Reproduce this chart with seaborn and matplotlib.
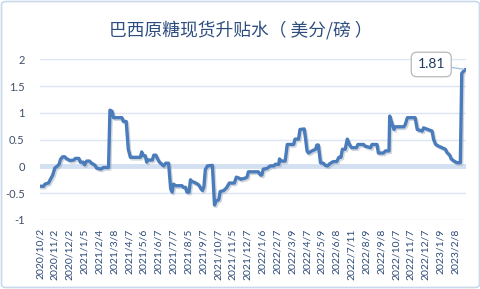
import matplotlib
matplotlib.use("Agg")
import matplotlib.pyplot as plt
import matplotlib.patheffects as pe
from matplotlib.patches import FancyBboxPatch
import seaborn as sns
import pandas as pd

# ---- data (trading-day index, spread in US cents/lb) ----
day_index = [0, 5, 7, 12, 14, 18, 21, 24, 27, 29, 32, 35, 38, 43, 48, 50, 55, 57, 61, 63,
             66, 70, 73, 78, 80, 86, 90, 97, 99, 102, 104, 116, 118, 122, 125, 128, 142, 144,
             146, 149, 151, 153, 159, 161, 164, 168, 170, 175, 178, 182, 185, 187, 189, 192,
             201, 203, 206, 208, 211, 213, 215, 219, 223, 225, 228, 230, 232, 234, 237, 244,
             247, 249, 253, 255, 260, 264, 268, 275, 278, 282, 284, 290, 293, 295, 309, 312,
             314, 316, 321, 326, 331, 333, 338, 339, 342, 347, 350, 359, 361, 366, 368, 374,
             376, 378, 380, 385, 390, 392, 394, 397, 401, 404, 407, 410, 415, 420, 423, 426,
             428, 432, 435, 438, 441, 448, 450, 458, 460, 468, 470, 477, 479, 486, 489, 494,
             495, 498, 501, 503, 515, 517, 520, 528, 531, 534, 541, 543, 549, 555, 557, 560,
             564, 569, 574, 576, 580, 582, 586, 590, 595, 597, 602]
spread = [-0.37, -0.37, -0.33, -0.31, -0.26, -0.16, -0.03, 0.0, 0.04, 0.13, 0.18, 0.18, 0.14,
          0.11, 0.12, 0.15, 0.15, 0.08, 0.08, 0.03, 0.10, 0.10, 0.06, 0.02, -0.03, -0.05,
          -0.02, -0.02, 1.05, 1.03, 0.91, 0.91, 0.84, 0.84, 0.32, 0.17, 0.17, 0.27, 0.20,
          0.20, 0.08, 0.12, 0.12, 0.21, 0.21, 0.10, 0.07, 0.01, 0.06, 0.06, -0.42, -0.48,
          -0.33, -0.36, -0.36, -0.39, -0.39, -0.48, -0.48, -0.25, -0.28, -0.30, -0.33, -0.35,
          -0.42, -0.45, -0.38, -0.06, 0.01, 0.02, -0.72, -0.65, -0.62, -0.47, -0.45, -0.40,
          -0.31, -0.31, -0.20, -0.22, -0.24, -0.22, -0.20, -0.10, -0.10, -0.16, -0.16, -0.05,
          -0.04, 0.01, 0.01, 0.04, 0.04, 0.14, 0.10, 0.10, 0.41, 0.41, 0.51, 0.51, 0.69, 0.70,
          0.51, 0.29, 0.25, 0.29, 0.32, 0.40, 0.40, 0.07, 0.06, 0.02, 0.01, 0.05, 0.09, 0.09,
          0.17, 0.17, 0.32, 0.32, 0.51, 0.41, 0.35, 0.35, 0.41, 0.41, 0.38, 0.35, 0.41, 0.41,
          0.25, 0.25, 0.29, 0.29, 0.94, 0.81, 0.69, 0.74, 0.74, 0.78, 0.91, 0.91, 0.91, 0.69,
          0.66, 0.72, 0.69, 0.66, 0.51, 0.41, 0.38, 0.35, 0.32, 0.26, 0.21, 0.14, 0.10, 0.07,
          0.07, 1.74, 1.81]
tick_labels = ["2020/10/2", "2020/11/2", "2020/12/2", "2021/1/5", "2021/2/4", "2021/3/8",
               "2021/4/7", "2021/5/6", "2021/6/7", "2021/7/7", "2021/8/5", "2021/9/7",
               "2021/10/7", "2021/11/5", "2021/12/7", "2022/1/6", "2022/2/7", "2022/3/9",
               "2022/4/7", "2022/5/9", "2022/6/8", "2022/7/11", "2022/8/9", "2022/9/8",
               "2022/10/7", "2022/11/7", "2022/12/7", "2023/1/9", "2023/2/8"]
label_step = 21
y_ticks = [-1, -0.5, 0, 0.5, 1, 1.5, 2]
y_tick_labels = ["-1", "-0.5", "0", "0.5", "1", "1.5", "2"]
title = "巴西原糖现货升贴水（ 美分/磅 ）"

df = pd.DataFrame({"day": day_index, "spread": spread})

sns.set_theme(style="white")
plt.rcParams['font.family'] = ['Lato', 'Noto Sans CJK SC', 'DejaVu Sans']

W, H = 481, 289
fig = plt.figure(figsize=(W / 100, H / 100), dpi=100)
fig.patch.set_facecolor("white")
ax = fig.add_axes([40 / W, 1 - 220 / H, 426 / W, (220 - 59.3) / H])

# gridlines
for yv in y_ticks:
    if yv == 0:
        ax.axhline(0, color="#d3e0f1", lw=3.5, zorder=1)
    else:
        ax.axhline(yv, color="#dbe5f3", lw=1.0, zorder=1)

sns.lineplot(data=df, x="day", y="spread", ax=ax, color="#4a7cbb", lw=2.4, zorder=3,
             path_effects=[pe.SimpleLineShadow(offset=(1, -1.2), shadow_color="#9aa6b5", alpha=0.45),
                           pe.Normal()])

ax.set_xlim(0, day_index[-1] + 1)
ax.set_ylim(-1, 2)
ax.set_xticks([i * label_step for i in range(len(tick_labels))])
ax.set_xticklabels(tick_labels, rotation=90, fontsize=7.5, color="#2c4a78")
ax.set_yticks(y_ticks)
ax.set_yticklabels(y_tick_labels, fontsize=8, color="#3f4f66")
ax.tick_params(axis="x", length=0, pad=6)
ax.tick_params(axis="y", length=0, pad=11)
ax.set_xlabel("")
ax.set_ylabel("")
for s in ax.spines.values():
    s.set_visible(False)
ax.set_facecolor("none")

# annotation of last value
last_x, last_y = day_index[-1], spread[-1]
ax.annotate(f"{last_y:.2f}", xy=(last_x, last_y), xytext=(-24.5, 3.6), textcoords="offset points",
            ha="center", va="center", fontsize=10, color="#1f3a66",
            bbox=dict(boxstyle="round,pad=0.45,rounding_size=0.4", fc="white", ec="#b8b8b8", lw=0.9),
            arrowprops=dict(arrowstyle="-", color="#9ec0e6", lw=0.9, shrinkA=0, shrinkB=1),
            zorder=5)

fig.text(0.5, 1 - 30 / H, title, ha="center", va="center", fontsize=12.8, color="#2e4d7f",
         family=["Noto Sans CJK SC", "DejaVu Sans"])

# outer rounded border
border = FancyBboxPatch((1.5 / W, 1.5 / H), (W - 3) / W, (H - 3) / H,
                        boxstyle="round,pad=0,rounding_size=0.01",
                        transform=fig.transFigure, fc="none", ec="#c9d9ec", lw=1.2)
fig.patches.append(border)

fig.savefig("out.png", dpi=100, facecolor="white")
